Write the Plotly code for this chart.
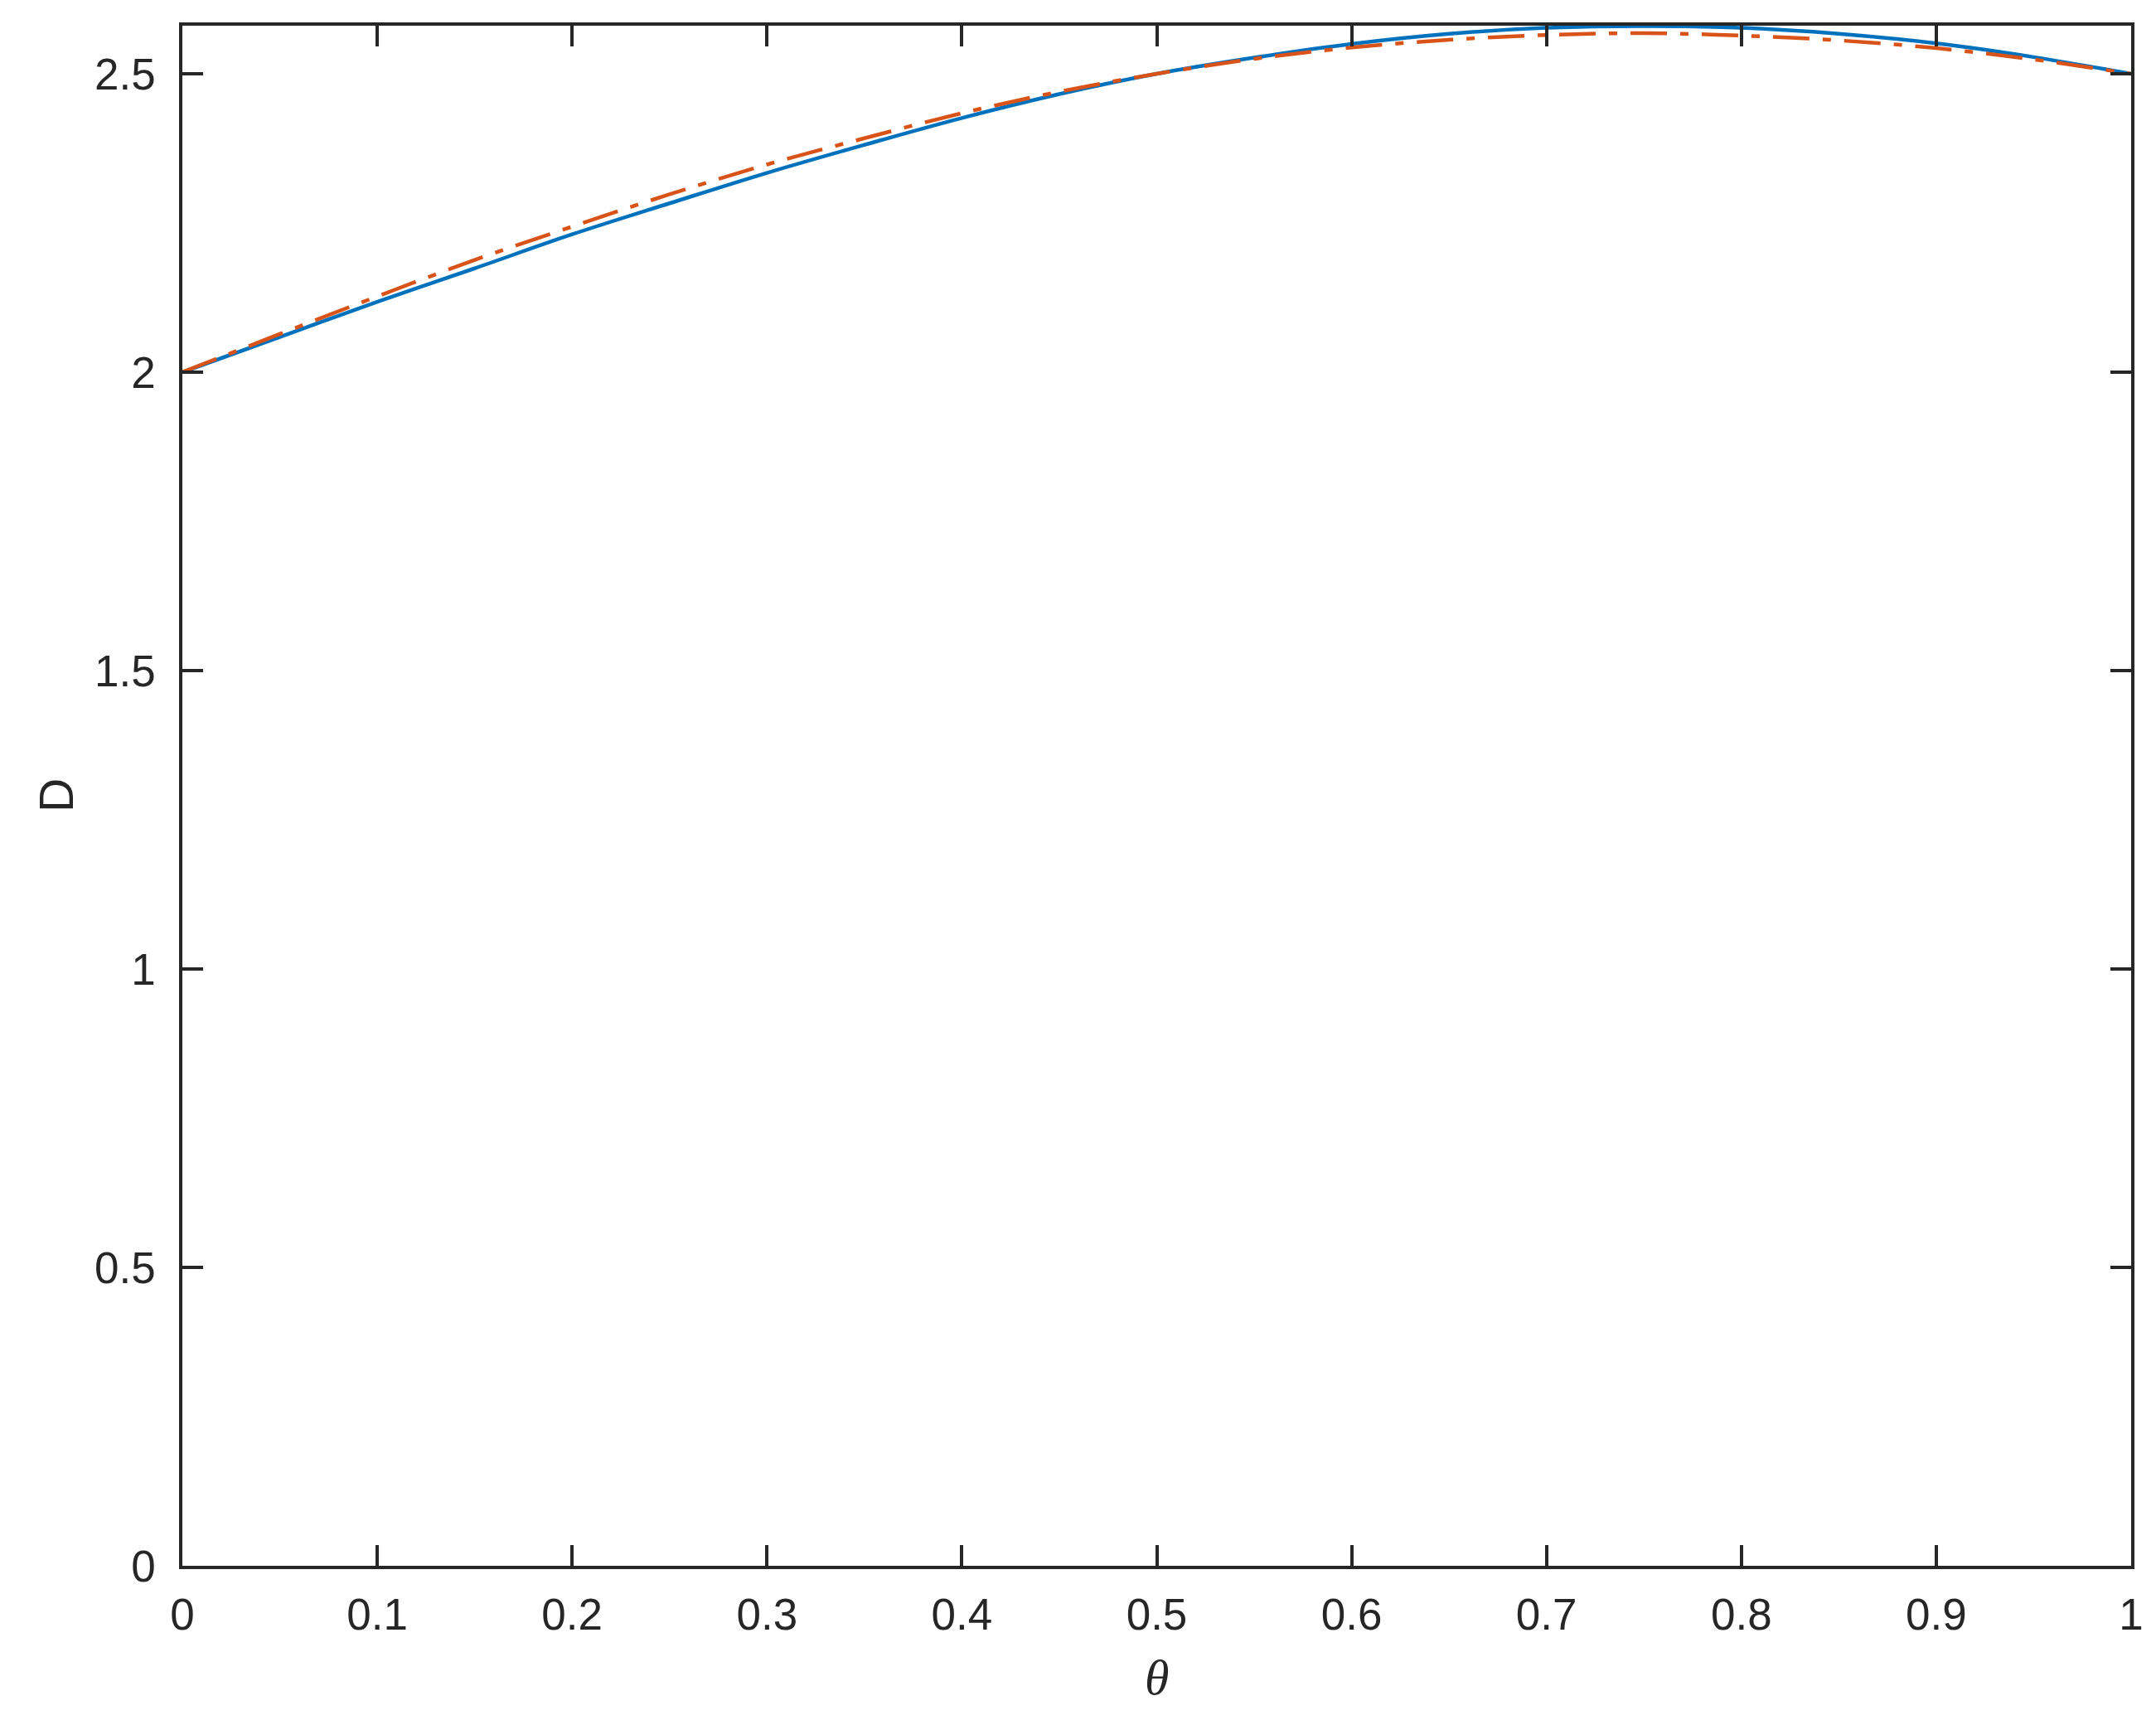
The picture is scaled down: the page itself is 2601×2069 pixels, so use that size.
import plotly.graph_objects as go

# values
theta = [0, 0.05, 0.1, 0.15, 0.2, 0.25, 0.3, 0.35, 0.4, 0.45, 0.5,
         0.55, 0.6, 0.65, 0.7, 0.75, 0.8, 0.85, 0.9, 0.95, 1.0]
d_solid = [2.000, 2.059, 2.118, 2.174, 2.231, 2.283, 2.334, 2.381, 2.426, 2.466, 2.500,
           2.527, 2.550, 2.567, 2.577, 2.580, 2.577, 2.567, 2.551, 2.528, 2.500]
d_dashdot = [2.000, 2.064, 2.127, 2.188, 2.244, 2.298, 2.348, 2.392, 2.434, 2.470, 2.500,
             2.525, 2.544, 2.557, 2.565, 2.568, 2.564, 2.556, 2.543, 2.524, 2.500]

x_ticks = [0, 0.1, 0.2, 0.3, 0.4, 0.5, 0.6, 0.7, 0.8, 0.9, 1]
x_labels = ["0", "0.1", "0.2", "0.3", "0.4", "0.5", "0.6", "0.7", "0.8", "0.9", "1"]
y_ticks = [0, 0.5, 1, 1.5, 2, 2.5]
y_labels = ["0", "0.5", "1", "1.5", "2", "2.5"]

W, H = 2601, 2069
left, right, top, bottom = 212, 38, 23, 188

fig = go.Figure()
fig.add_trace(go.Scatter(x=theta, y=d_solid, mode="lines",
                         line=dict(color="#0072BD", width=4.5, shape="spline")))
fig.add_trace(go.Scatter(x=theta, y=d_dashdot, mode="lines",
                         line=dict(color="#D95319", width=4.5, shape="spline",
                                   dash="44px,16px,10px,16px")))

axis_common = dict(showline=True, linewidth=3.5, linecolor="#262626", mirror="ticks",
                   ticks="inside", ticklen=25, tickwidth=3.5, tickcolor="#262626",
                   showgrid=False, zeroline=False,
                   tickfont=dict(family="Liberation Sans, Arial", size=53, color="#262626"))

fig.update_xaxes(range=[0, 1], tickvals=x_ticks, ticktext=x_labels,
                 ticklabelstandoff=10, **axis_common)
fig.update_yaxes(range=[0, 2.5806], tickvals=y_ticks, ticktext=y_labels,
                 ticklabelstandoff=18, **axis_common)

plot_w = W - left - right
plot_h = H - top - bottom
fig.add_annotation(text="<i>θ</i>", xref="paper", yref="paper",
                   x=0.5, y=-(2016 - (H - bottom)) / plot_h,
                   xanchor="center", yanchor="middle", showarrow=False,
                   font=dict(family="Liberation Serif, Times New Roman", size=60, color="#262626"))
fig.add_annotation(text="D", xref="paper", yref="paper",
                   x=(60 - left) / plot_w, y=0.5, textangle=-90,
                   xanchor="center", yanchor="middle", showarrow=False,
                   font=dict(family="Liberation Sans, Arial", size=57, color="#262626"))

fig.update_layout(width=W, height=H, showlegend=False,
                  margin=dict(l=left, r=right, t=top, b=bottom),
                  plot_bgcolor="white", paper_bgcolor="white")

fig.write_html("out.html")
